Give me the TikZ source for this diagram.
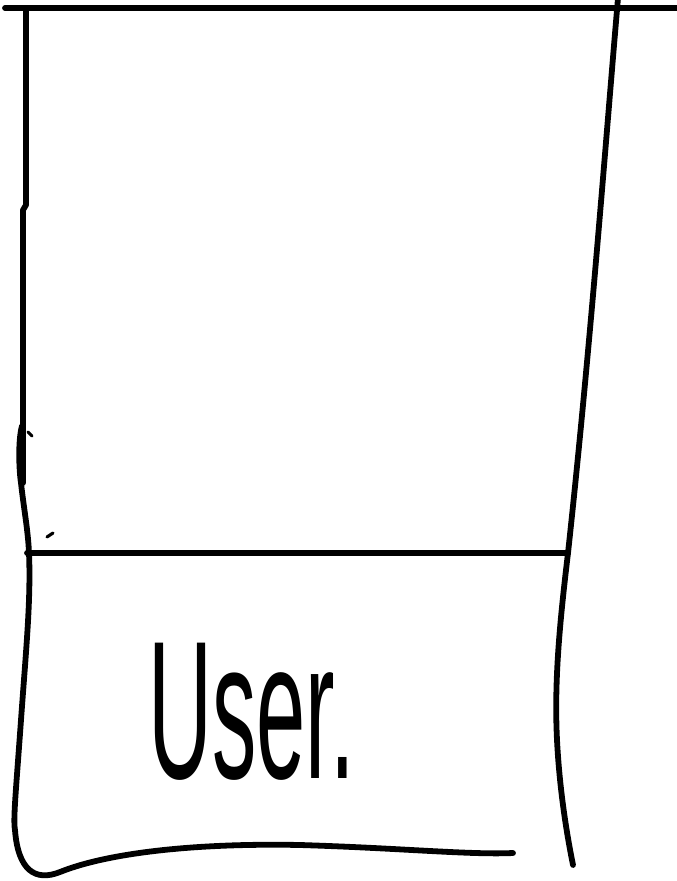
\documentclass[tikz,border=0pt]{standalone}
\usepackage{fontspec}
\setmainfont{Liberation Sans}
\begin{document}
\begin{tikzpicture}[x=0.02cm, y=-0.02cm]
        \tikzset{pen/.style={line width=3.3pt, line cap=round, line join=round}}
        \tikzset{thinpen/.style={line width=1.8pt, line cap=round}}
        \useasboundingbox (0,0) rectangle (676,881);

        % top edge and the line across the middle
        \draw[pen] (5,8) -- (680,8);
        \draw[pen] (27,553) -- (568,553);

        % left edge, drawn in two strokes
        \draw[pen] (26,8) -- (26,205) -- (23,210) -- (23,483);
        \draw[pen] (22,426) .. controls (18,440) and (19,470) .. (21,483)
            .. controls (24,510) and (28,530) .. (29,553)
            .. controls (31,600) and (26,650) .. (21,720)
            .. controls (16,790) and (13,820) .. (15,830)
            .. controls (18,870) and (35,882) .. (60,872)
            .. controls (110,852) and (200,843) .. (300,845)
            .. controls (400,848) and (470,855) .. (513,853);

        % right edge
        \draw[pen] (618,-2) .. controls (605,150) and (590,350) .. (568,553)
            .. controls (560,620) and (554,680) .. (557,740)
            .. controls (560,800) and (570,850) .. (573,865);

        % stray marks
        \draw[thinpen] (28,432) -- (32,436);
        \draw[thinpen] (47,537) -- (53,533);

        \node[font=\fontsize{56}{56}\selectfont, xscale=0.9, yscale=2, anchor=base west, inner sep=0pt] (user) at (148,778) {User.};
\end{tikzpicture}
\end{document}
